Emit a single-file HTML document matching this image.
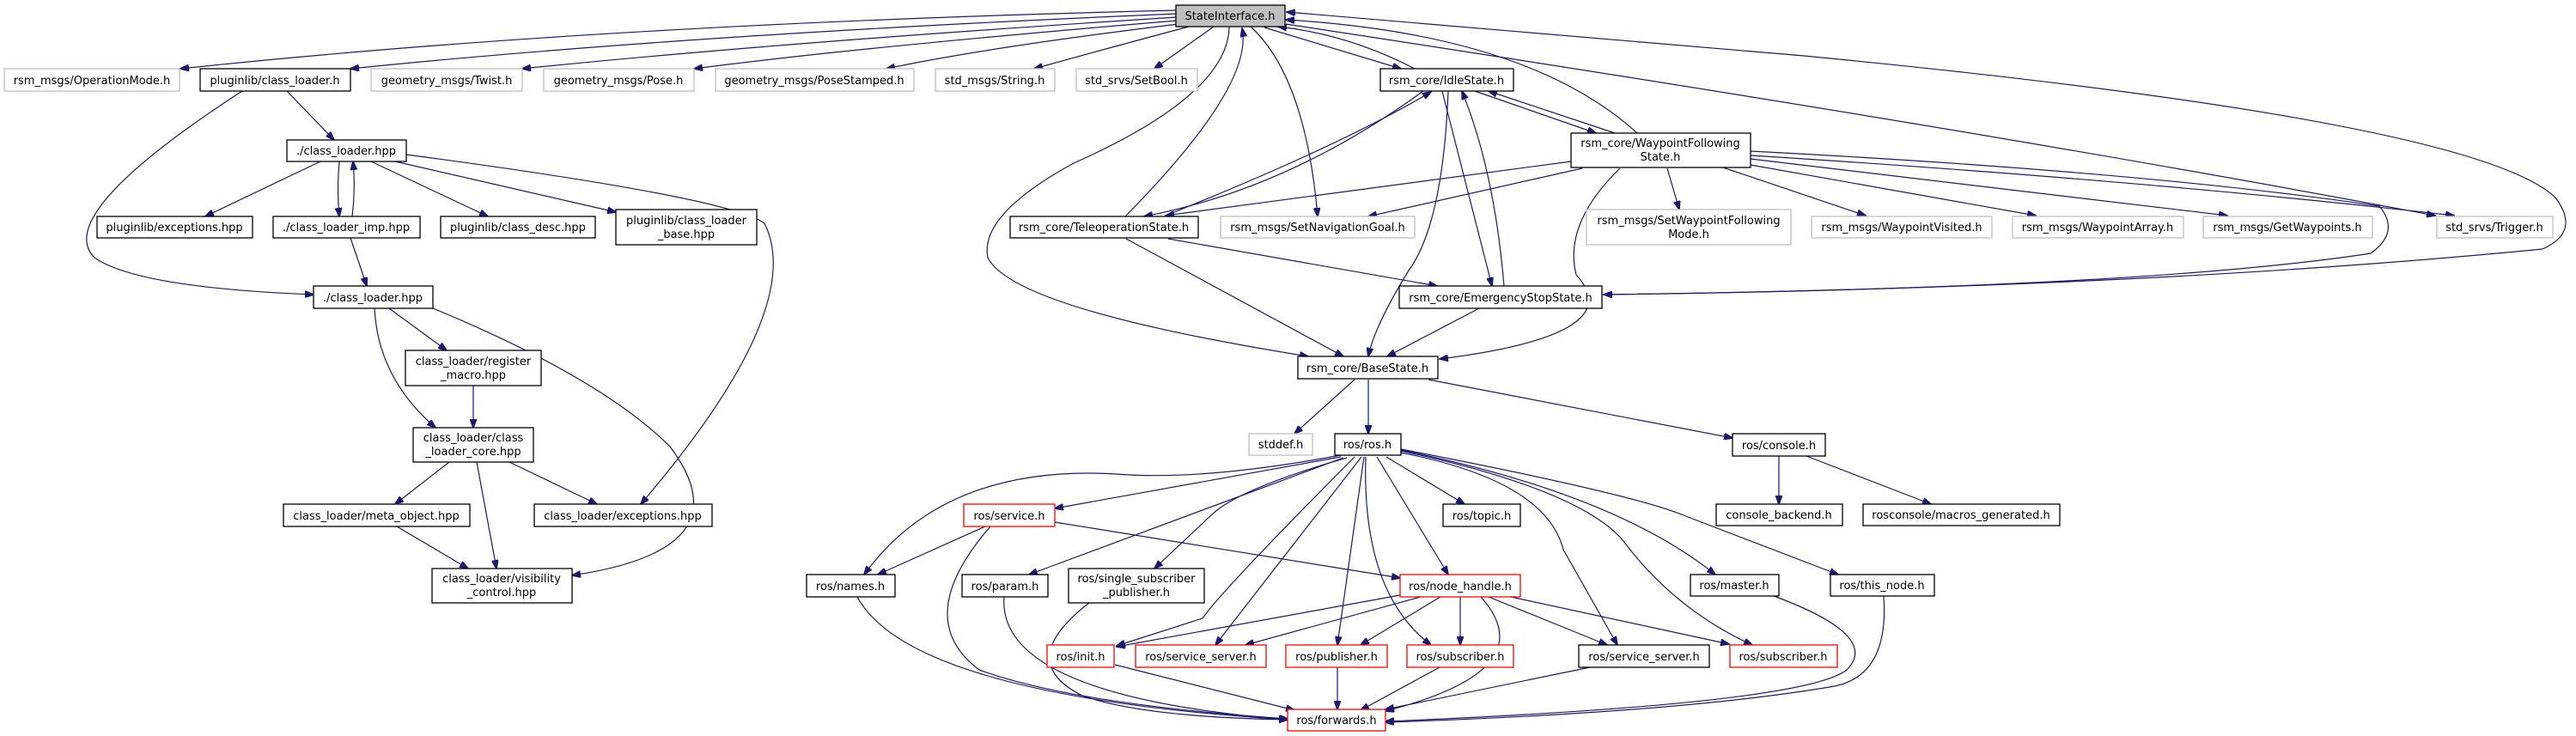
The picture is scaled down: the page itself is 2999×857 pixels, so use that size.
<!DOCTYPE html>
<html><head><meta charset="utf-8"><style>
html,body{margin:0;padding:0;background:#fff;}
svg{display:block;}
text{font-family:"DejaVu Sans","Liberation Sans",sans-serif;font-size:13px;fill:#000;}
.e{fill:none;stroke:#191970;stroke-width:1.2;}
.b{fill:#fff;stroke:#000;stroke-width:1.3;}
.g{fill:#fff;stroke:#bfbfbf;stroke-width:1.3;}
.r{fill:#fff;stroke:#ff0000;stroke-width:1.3;}
.s{fill:#bfbfbf;stroke:#000;stroke-width:1.3;}
</style></head><body>
<svg width="2999" height="857" viewBox="0 0 2999 857" xmlns="http://www.w3.org/2000/svg">
<defs><marker id="a" markerUnits="userSpaceOnUse" markerWidth="11" markerHeight="8" refX="10" refY="4" orient="auto"><path d="M0,0 L11,4 L0,8 z" fill="#191970" stroke="#191970"/></marker></defs>
<g class="e" marker-end="url(#a)">
<!-- StateInterface top row -->
<path d="M1370,12 Q700,28 210,80"/>
<path d="M1370,16 Q800,40 408,80"/>
<path d="M1370,20 Q900,50 608,80"/>
<path d="M1370,24 Q1000,55 808,80"/>
<path d="M1372,28 Q1150,55 1032,80"/>
<path d="M1384,31 Q1290,56 1204,80"/>
<path d="M1413,31 L1344,80"/>
<path d="M1456,31 Q1520,90 1534,252"/>
<path d="M1431,31 Q1430,110 1250,190 Q1140,250 1150,300 Q1180,360 1523,415"/>
<path d="M1310,252 Q1460,100 1446,33"/>
<path d="M1472,32 L1631,80"/>
<path d="M1647,80 Q1570,40 1488,31"/>
<path d="M1906,155 Q1780,40 1497,23"/>
<path d="M1497,28 Q2300,150 2835,251"/>
<path d="M1865,343 Q2500,335 2960,290 Q3005,270 2975,230 Q2880,140 2100,65 Q1700,30 1498,14"/>
<path d="M2038,176 Q2500,200 2770,240 Q2795,270 2760,295 Q2500,335 1867,343"/>
<path d="M2038,181 Q2500,210 2857,251"/>
<path d="M2000,193 L2172,251"/>
<path d="M2038,192 L2370,251"/>
<path d="M2038,185 L2593,251"/>
<path d="M1941,196 L1955,244"/>
<path d="M1842,196 L1593,252"/>
<path d="M1829,188 L1357,251"/>
<path d="M1886,196 Q1820,260 1835,320 Q1900,390 1676,418"/>
<path d="M1717,106 L1858,155"/>
<path d="M1880,155 L1733,106"/>
<path d="M1657,106 Q1500,220 1332,252"/>
<path d="M1357,251 Q1560,170 1666,107"/>
<path d="M1679,106 L1737,333"/>
<path d="M1751,333 Q1740,200 1702,106"/>
<path d="M1686,106 Q1680,260 1640,315 Q1600,380 1593,415"/>
<path d="M1360,278 L1673,333"/>
<path d="M1311,278 L1564,415"/>
<path d="M1722,359 L1615,415"/>
<!-- pluginlib -->
<path d="M334,106 L389,163"/>
<path d="M282,106 Q60,250 110,300 Q160,335 365,343"/>
<path d="M373,188 L239,252"/>
<path d="M395,188 Q392,220 395,252"/>
<path d="M410,252 Q414,220 411,188"/>
<path d="M432,188 L568,252"/>
<path d="M460,188 L717,247"/>
<path d="M473,180 Q850,230 890,260 Q940,360 746,587"/>
<path d="M408,277 L427,333"/>
<path d="M453,359 L520,408"/>
<path d="M436,359 Q440,440 507,498"/>
<path d="M504,359 Q700,440 780,520 Q870,640 666,670"/>
<path d="M551,449 L551,498"/>
<path d="M523,538 L460,587"/>
<path d="M555,538 L578,662"/>
<path d="M593,538 L695,587"/>
<path d="M462,613 L545,662"/>
<!-- ros -->
<path d="M1577,442 L1507,505"/>
<path d="M1593,442 L1593,505"/>
<path d="M1663,442 L2017,510"/>
<path d="M1561,530 Q1400,560 1300,552 Q1100,540 1006,669"/>
<path d="M1561,532 L1228,592"/>
<path d="M1564,533 L1198,669"/>
<path d="M1568,533 Q1440,570 1410,600 L1344,662"/>
<path d="M1577,532 Q1420,690 1400,720 L1300,752"/>
<path d="M1585,532 L1415,751"/>
<path d="M1588,532 L1557,751"/>
<path d="M1590,532 Q1585,690 1666,751"/>
<path d="M1603,532 L1686,669"/>
<path d="M1614,532 L1705,587"/>
<path d="M1631,527 Q1800,560 1820,640 L1883,751"/>
<path d="M1631,525 Q1840,570 1890,630 Q1950,710 2040,751"/>
<path d="M1631,524 Q1880,575 1997,669"/>
<path d="M1631,523 Q1900,575 1960,600 L2140,669"/>
<path d="M1147,613 L1022,669"/>
<path d="M1228,608 L1630,673"/>
<path d="M1153,613 Q1060,720 1140,780 Q1250,820 1499,837"/>
<path d="M998,695 Q1060,810 1499,838"/>
<path d="M1169,695 Q1160,810 1499,838"/>
<path d="M1268,702 Q1180,770 1260,810 Q1330,835 1499,838"/>
<path d="M1630,693 L1300,753"/>
<path d="M1654,695 L1450,751"/>
<path d="M1677,695 L1584,751"/>
<path d="M1700,695 L1700,751"/>
<path d="M1724,695 Q1800,780 1613,828"/>
<path d="M1733,695 L1871,751"/>
<path d="M1759,695 L2013,750"/>
<path d="M1298,774 L1507,827"/>
<path d="M1557,777 L1557,826"/>
<path d="M1676,777 L1584,827"/>
<path d="M1851,777 L1613,826"/>
<path d="M2065,694 Q2190,740 2150,780 Q2100,820 1613,840"/>
<path d="M2193,694 Q2200,790 2130,800 Q1950,830 1613,841"/>
<path d="M2071,531 L2071,587"/>
<path d="M2103,531 L2248,587"/>
</g>
<!-- nodes -->
<g>
<rect class="s" x="1369" y="6" width="127" height="25"/><text x="1432" y="23" text-anchor="middle">StateInterface.h</text>
<rect class="g" x="5" y="80" width="204" height="26"/><text x="107" y="98" text-anchor="middle">rsm_msgs/OperationMode.h</text>
<rect class="b" x="233" y="80" width="175" height="26"/><text x="320" y="98" text-anchor="middle">pluginlib/class_loader.h</text>
<rect class="g" x="432" y="80" width="176" height="26"/><text x="520" y="98" text-anchor="middle">geometry_msgs/Twist.h</text>
<rect class="g" x="633" y="80" width="175" height="26"/><text x="720" y="98" text-anchor="middle">geometry_msgs/Pose.h</text>
<rect class="g" x="833" y="80" width="231" height="26"/><text x="948" y="98" text-anchor="middle">geometry_msgs/PoseStamped.h</text>
<rect class="g" x="1089" y="80" width="139" height="26"/><text x="1158" y="98" text-anchor="middle">std_msgs/String.h</text>
<rect class="g" x="1253" y="80" width="141" height="26"/><text x="1323" y="98" text-anchor="middle">std_srvs/SetBool.h</text>
<rect class="b" x="1607" y="80" width="155" height="26"/><text x="1684" y="98" text-anchor="middle">rsm_core/IdleState.h</text>
<rect class="b" x="1829" y="155" width="209" height="40"/><text x="1933" y="171" text-anchor="middle">rsm_core/WaypointFollowing</text><text x="1933" y="187" text-anchor="middle">State.h</text>
<rect class="b" x="334" y="163" width="139" height="25"/><text x="403" y="180" text-anchor="middle">./class_loader.hpp</text>
<rect class="b" x="113" y="252" width="181" height="25"/><text x="203" y="269" text-anchor="middle">pluginlib/exceptions.hpp</text>
<rect class="b" x="318" y="252" width="171" height="25"/><text x="403" y="269" text-anchor="middle">./class_loader_imp.hpp</text>
<rect class="b" x="513" y="252" width="180" height="25"/><text x="603" y="269" text-anchor="middle">pluginlib/class_desc.hpp</text>
<rect class="b" x="717" y="244" width="164" height="41"/><text x="799" y="261" text-anchor="middle">pluginlib/class_loader</text><text x="799" y="277" text-anchor="middle">_base.hpp</text>
<rect class="b" x="1176" y="252" width="219" height="25"/><text x="1285" y="269" text-anchor="middle">rsm_core/TeleoperationState.h</text>
<rect class="g" x="1421" y="252" width="226" height="25"/><text x="1534" y="269" text-anchor="middle">rsm_msgs/SetNavigationGoal.h</text>
<rect class="g" x="1847" y="244" width="238" height="41"/><text x="1966" y="261" text-anchor="middle">rsm_msgs/SetWaypointFollowing</text><text x="1966" y="277" text-anchor="middle">Mode.h</text>
<rect class="g" x="2109" y="252" width="210" height="25"/><text x="2214" y="269" text-anchor="middle">rsm_msgs/WaypointVisited.h</text>
<rect class="g" x="2343" y="252" width="199" height="25"/><text x="2442" y="269" text-anchor="middle">rsm_msgs/WaypointArray.h</text>
<rect class="g" x="2565" y="252" width="197" height="25"/><text x="2663" y="269" text-anchor="middle">rsm_msgs/GetWaypoints.h</text>
<rect class="g" x="2837" y="252" width="135" height="25"/><text x="2904" y="269" text-anchor="middle">std_srvs/Trigger.h</text>
<rect class="b" x="365" y="333" width="139" height="26"/><text x="434" y="351" text-anchor="middle">./class_loader.hpp</text>
<rect class="b" x="1629" y="333" width="236" height="26"/><text x="1747" y="351" text-anchor="middle">rsm_core/EmergencyStopState.h</text>
<rect class="b" x="472" y="408" width="158" height="41"/><text x="551" y="425" text-anchor="middle">class_loader/register</text><text x="551" y="441" text-anchor="middle">_macro.hpp</text>
<rect class="b" x="1511" y="415" width="163" height="26"/><text x="1592" y="433" text-anchor="middle">rsm_core/BaseState.h</text>
<rect class="b" x="481" y="498" width="140" height="40"/><text x="551" y="514" text-anchor="middle">class_loader/class</text><text x="551" y="530" text-anchor="middle">_loader_core.hpp</text>
<rect class="g" x="1454" y="505" width="74" height="25"/><text x="1491" y="522" text-anchor="middle">stddef.h</text>
<rect class="b" x="1554" y="505" width="77" height="25"/><text x="1592" y="522" text-anchor="middle">ros/ros.h</text>
<rect class="b" x="2017" y="505" width="108" height="26"/><text x="2071" y="523" text-anchor="middle">ros/console.h</text>
<rect class="b" x="330" y="587" width="217" height="26"/><text x="438" y="605" text-anchor="middle">class_loader/meta_object.hpp</text>
<rect class="b" x="622" y="587" width="207" height="26"/><text x="725" y="605" text-anchor="middle">class_loader/exceptions.hpp</text>
<rect class="r" x="1122" y="587" width="106" height="26"/><text x="1175" y="605" text-anchor="middle">ros/service.h</text>
<rect class="b" x="1680" y="587" width="90" height="26"/><text x="1725" y="605" text-anchor="middle">ros/topic.h</text>
<rect class="b" x="1998" y="587" width="147" height="25"/><text x="2071" y="604" text-anchor="middle">console_backend.h</text>
<rect class="b" x="2169" y="587" width="229" height="25"/><text x="2283" y="604" text-anchor="middle">rosconsole/macros_generated.h</text>
<rect class="b" x="503" y="662" width="163" height="40"/><text x="584" y="678" text-anchor="middle">class_loader/visibility</text><text x="584" y="694" text-anchor="middle">_control.hpp</text>
<rect class="b" x="939" y="669" width="103" height="26"/><text x="990" y="687" text-anchor="middle">ros/names.h</text>
<rect class="b" x="1120" y="669" width="100" height="26"/><text x="1170" y="687" text-anchor="middle">ros/param.h</text>
<rect class="b" x="1244" y="662" width="158" height="40"/><text x="1323" y="678" text-anchor="middle">ros/single_subscriber</text><text x="1323" y="694" text-anchor="middle">_publisher.h</text>
<rect class="r" x="1630" y="669" width="140" height="26"/><text x="1700" y="687" text-anchor="middle">ros/node_handle.h</text>
<rect class="b" x="1968" y="669" width="103" height="25"/><text x="2019" y="686" text-anchor="middle">ros/master.h</text>
<rect class="b" x="2131" y="669" width="121" height="25"/><text x="2191" y="686" text-anchor="middle">ros/this_node.h</text>
<rect class="r" x="1219" y="751" width="78" height="26"/><text x="1258" y="769" text-anchor="middle">ros/init.h</text>
<rect class="r" x="1322" y="751" width="152" height="26"/><text x="1398" y="769" text-anchor="middle">ros/service_server.h</text>
<rect class="r" x="1497" y="751" width="118" height="26"/><text x="1556" y="769" text-anchor="middle">ros/publisher.h</text>
<rect class="r" x="1638" y="751" width="124" height="26"/><text x="1700" y="769" text-anchor="middle">ros/subscriber.h</text>
<rect class="b" x="1838" y="751" width="152" height="26"/><text x="1914" y="769" text-anchor="middle">ros/service_server.h</text>
<rect class="r" x="2014" y="751" width="125" height="26"/><text x="2076" y="769" text-anchor="middle">ros/subscriber.h</text>
<rect class="r" x="1499" y="826" width="114" height="25"/><text x="1556" y="843" text-anchor="middle">ros/forwards.h</text>
</g>
</svg>
</body></html>
